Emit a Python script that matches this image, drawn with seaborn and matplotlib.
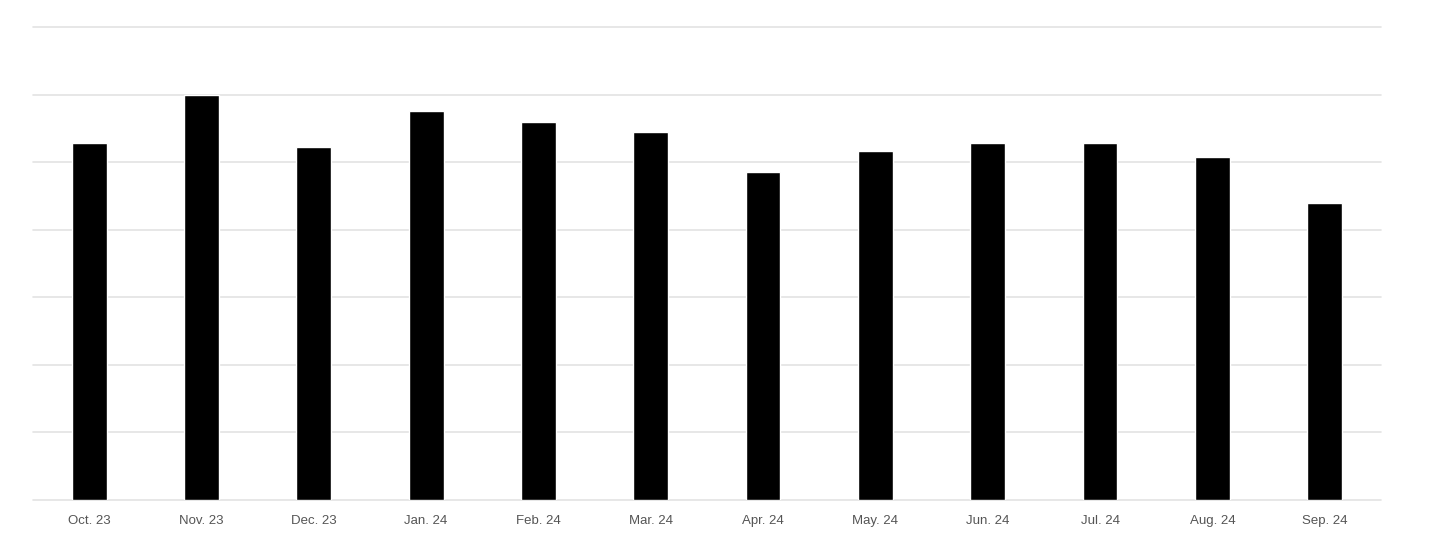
import matplotlib
matplotlib.use('Agg')
import matplotlib.pyplot as plt
import seaborn as sns

months = ['Oct. 23', 'Nov. 23', 'Dec. 23', 'Jan. 24', 'Feb. 24', 'Mar. 24',
          'Apr. 24', 'May. 24', 'Jun. 24', 'Jul. 24', 'Aug. 24', 'Sep. 24']
values = [5.29, 5.99, 5.23, 5.76, 5.60, 5.44, 4.85, 5.17, 5.28, 5.28, 5.07, 4.39]

sns.set_style('white')
plt.rcParams['font.family'] = ['Liberation Sans', 'DejaVu Sans']

fig = plt.figure(figsize=(14.4, 5.4), dpi=100)
ax = fig.add_axes([0.0229, 0.0741, 0.936, 0.8759])

sns.barplot(x=months, y=values, color='black', width=0.31, ax=ax,
            saturation=1, zorder=3)

ax.set_xlim(-0.5, 11.5)
ax.set_ylim(0, 7)
ax.set_yticks(range(0, 8))
ax.set_yticklabels([])
ax.yaxis.grid(True, color='#e3e3e3', linewidth=1.2, zorder=0)
for line in ax.get_ygridlines():
    line.set_clip_on(False)
ax.tick_params(axis='both', length=0)
ax.tick_params(axis='x', labelsize=9.5, labelcolor='#555555', pad=11)
for side in ['top', 'right', 'left', 'bottom']:
    ax.spines[side].set_visible(False)
ax.set_xlabel('')
ax.set_ylabel('')

fig.savefig('out.png', dpi=100, facecolor='white')
